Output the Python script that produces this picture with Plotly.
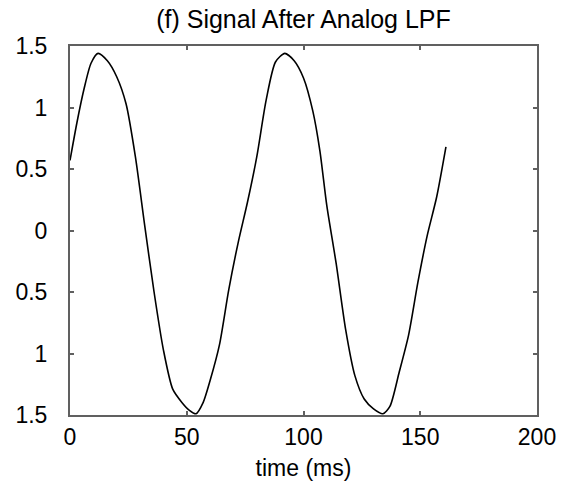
import plotly.graph_objects as go

time_ms = [0, 3, 6, 9, 12, 16, 20, 24, 28, 32, 36, 40, 44, 48, 51, 54, 57, 60, 64, 68,
           72, 76, 80, 84, 88, 92, 96, 100, 104, 107, 110, 114, 118, 122, 126, 130, 134,
           137, 141, 145, 149, 153, 157, 161]
signal = [0.57, 0.88, 1.15, 1.36, 1.44, 1.38, 1.25, 1.03, 0.60, 0.04, -0.50, -0.97, -1.29,
          -1.40, -1.46, -1.49, -1.40, -1.22, -0.93, -0.48, -0.10, 0.23, 0.60, 1.06, 1.37,
          1.44, 1.38, 1.24, 0.97, 0.65, 0.20, -0.27, -0.80, -1.18, -1.37, -1.45, -1.49,
          -1.43, -1.15, -0.85, -0.42, -0.04, 0.27, 0.68]

y_tickvals = [-1.5, -1, -0.5, 0, 0.5, 1, 1.5]
y_ticktext = ["1.5", "1", "0.5", "0", "0.5", "1", "1.5"]
x_tickvals = [0, 50, 100, 150, 200]
x_ticktext = ["0", "50", "100", "150", "200"]

FONT = "Liberation Sans, Arial, Helvetica, sans-serif"

fig = go.Figure()
fig.add_trace(go.Scatter(x=time_ms, y=signal, mode="lines",
                         line=dict(color="black", width=1.6, shape="spline", smoothing=0.7),
                         showlegend=False))

axis_common = dict(showgrid=False, zeroline=False, showline=True, linecolor="#606060",
                   linewidth=2, mirror="ticks", ticks="inside", ticklen=4,
                   tickcolor="#606060", tickwidth=1.5, automargin=False,
                   tickfont=dict(family=FONT, size=23, color="black"))

fig.update_layout(
    width=562, height=481,
    margin=dict(l=70, r=25, t=46, b=66),
    paper_bgcolor="white", plot_bgcolor="white",
    title=dict(text="(f) Signal After Analog LPF", x=0.5, xref="paper", xanchor="center",
               y=1 - 19 / 481, yref="container", yanchor="middle",
               font=dict(family=FONT, size=25, color="black")),
    xaxis=dict(range=[0, 200], tickvals=x_tickvals, ticktext=x_ticktext,
               title=dict(text="time (ms)",
                          font=dict(family=FONT, size=23, color="black")),
               ticklabelstandoff=0, **axis_common),
    yaxis=dict(range=[-1.5, 1.5], tickvals=y_tickvals, ticktext=y_ticktext,
               ticklabelstandoff=16, **axis_common),
)

fig.write_html("out.html", config={"displayModeBar": False},
               post_script="document.body.style.margin='0';")
